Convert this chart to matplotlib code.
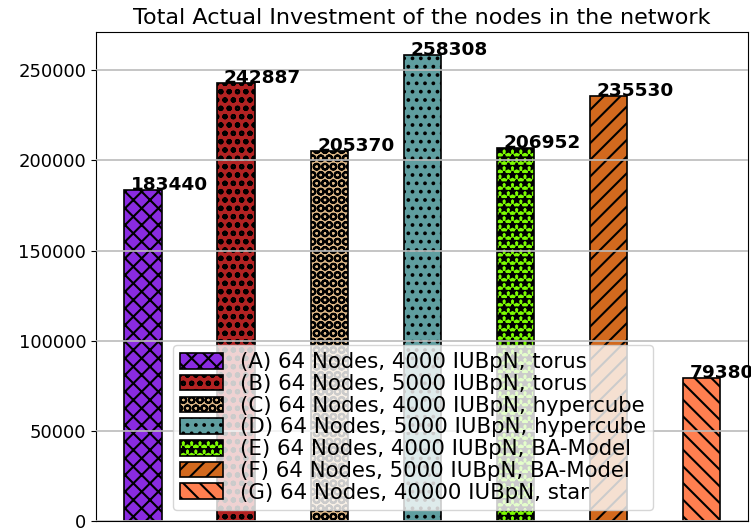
import numpy as np
import matplotlib
matplotlib.use("Agg")
import matplotlib.pyplot as plt

plt.rcParams["hatch.linewidth"] = 1.5

labels = ["(A) 64 Nodes, 4000 IUBpN, torus",
          "(B) 64 Nodes, 5000 IUBpN, torus",
          "(C) 64 Nodes, 4000 IUBpN, hypercube",
          "(D) 64 Nodes, 5000 IUBpN, hypercube",
          "(E) 64 Nodes, 4000 IUBpN, BA-Model",
          "(F) 64 Nodes, 5000 IUBpN, BA-Model",
          "(G) 64 Nodes, 40000 IUBpN, star"]
investment = [183440, 242887, 205370, 258308, 206952, 235530, 79380]
colors = ["blueviolet", "firebrick", "burlywood", "cadetblue", "lawngreen", "chocolate", "coral"]
hatches = ["xx", "oo", "OO", "..", "**", "//", "\\\\"]

fig = plt.figure(figsize=(7.51, 5.29), dpi=100)
ax = fig.add_axes([96 / 751, 8 / 529, 652 / 751, 489 / 529])

x = np.arange(len(investment))
width = 0.4
for i in range(len(investment)):
    ax.bar(x[i], investment[i], width, color=colors[i], edgecolor="black",
           hatch=hatches[i], label=labels[i], linewidth=1.2)
    ax.text(x[i] - 0.13, investment[i], str(investment[i]), fontsize=13.3,
            fontweight="bold", ha="left", va="baseline")

ax.set_title("Total Actual Investment of the nodes in the network", fontsize=16)
ax.set_xticks([])
ax.tick_params(axis="y", labelsize=13)
ax.yaxis.grid(True, color="#bbbbbb", linewidth=1.2)
ax.set_axisbelow(False)
ax.set_xlim(-0.505, 6.5)

ax.legend(loc="lower left", bbox_to_anchor=(0.118, 0.0225), borderaxespad=0,
          fontsize=15.3, handlelength=2.0, handleheight=0.75, labelspacing=0.08,
          borderpad=0.35)

fig.savefig("out.png", dpi=100)
